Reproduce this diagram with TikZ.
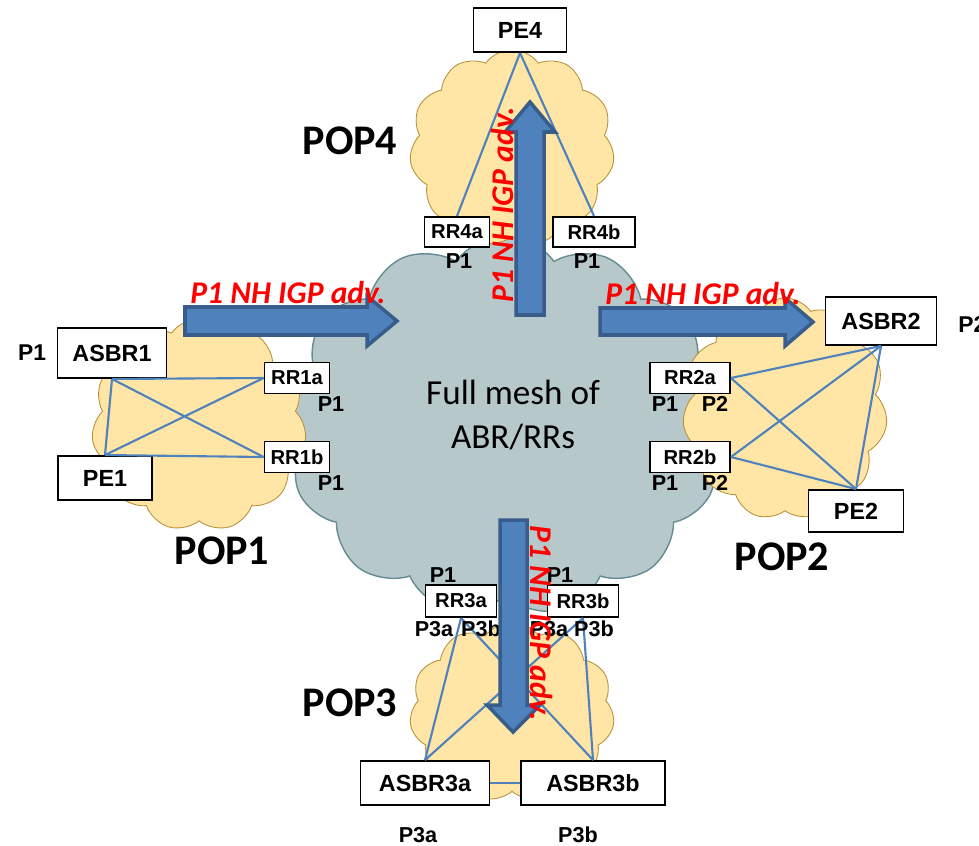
\documentclass[tikz,border=0pt]{standalone}
\usepackage{fontspec}
\setmainfont{Liberation Sans}
\newfontfamily\calibri{Carlito}
\usetikzlibrary{shapes.symbols}
\definecolor{meshfill}{RGB}{183,200,203}
\definecolor{meshedge}{RGB}{100,140,146}
\definecolor{popfill}{RGB}{255,230,166}
\definecolor{popedge}{RGB}{185,145,60}
\definecolor{linkblue}{RGB}{79,129,189}
\definecolor{arrowedge}{RGB}{56,93,138}
\definecolor{advred}{RGB}{255,0,0}

\begin{document}
\begin{tikzpicture}[x=0.02cm,y=-0.02cm,
  box/.style = {draw, line width=1.1pt, fill=white, inner sep=0pt, font=\bfseries\fontsize{13.3}{15}\selectfont},
  rr/.style = {box, minimum height=0.62cm, font=\bfseries\fontsize{11.5}{13}\selectfont},
  port/.style = {inner sep=0pt, font=\bfseries\fontsize{12.3}{14}\selectfont},
  link/.style = {linkblue, line width=1.2pt},
  pop/.style = {cloud, cloud puffs=11, cloud puff arc=110, draw=popedge, fill=popfill, line width=0.5pt, inner sep=0pt},
  popname/.style = {font=\calibri\bfseries\fontsize{24}{28}\selectfont},
  bigarrow/.style = {fill=linkblue, draw=arrowedge, line width=2pt, line join=miter},
  adv/.style = {text=advred, inner sep=0pt, font=\calibri\bfseries\itshape\fontsize{18}{20}\selectfont}]
\useasboundingbox (0,0) rectangle (979,845);

% clouds
\node[cloud, cloud puffs=13, cloud puff arc=110, draw=meshedge, fill=meshfill, line width=0.8pt,
  minimum width=8.8cm, minimum height=7.6cm] (core) at (505,426) {};
\node[pop, minimum width=4.3cm, minimum height=4.25cm] (cloud1) at (199,425) {};
\node[pop, minimum width=4.1cm, minimum height=4.44cm] (cloud2) at (785,409) {};
\node[pop, minimum width=4.1cm, minimum height=3.6cm] (cloud3) at (512,712) {};
\node[pop, minimum width=4.1cm, minimum height=3.94cm] (cloud4) at (512,148) {};
\node[align=center, font=\calibri\fontsize{20}{25}\selectfont] (mesh) at (513,415) {Full mesh of\\ABR/RRs};

% routers
\node[box, minimum width=1.86cm, minimum height=0.88cm] (pe4) at (520,30) {PE4};
\node[rr, minimum width=1.3cm, minimum height=0.6cm] (rr4a) at (457,232) {RR4a};
\node[rr, minimum width=1.64cm, minimum height=0.6cm] (rr4b) at (594,232) {RR4b};
\node[box, minimum width=2.18cm, minimum height=1cm] (asbr1) at (112,353) {ASBR1};
\node[box, minimum width=1.88cm, minimum height=0.88cm] (pe1) at (105,478) {PE1};
\node[rr, minimum width=1.3cm] (rr1a) at (297,378) {RR1a};
\node[rr, minimum width=1.3cm] (rr1b) at (297,457) {RR1b};
\node[box, minimum width=2.22cm, minimum height=0.96cm] (asbr2) at (881,321) {ASBR2};
\node[box, minimum width=1.9cm, minimum height=0.84cm] (pe2) at (856,511) {PE2};
\node[rr, minimum width=1.6cm] (rr2a) at (690,378) {RR2a};
\node[rr, minimum width=1.6cm] (rr2b) at (690,457) {RR2b};
\node[rr, minimum width=1.42cm, minimum height=0.64cm] (rr3a) at (461,601) {RR3a};
\node[rr, minimum width=1.42cm, minimum height=0.64cm] (rr3b) at (583,601) {RR3b};
\node[box, minimum width=2.58cm, minimum height=0.88cm] (asbr3a) at (425,783) {ASBR3a};
\node[box, minimum width=2.88cm, minimum height=0.88cm] (asbr3b) at (593,783) {ASBR3b};

% links
\draw[link] (pe4.south) -- (rr4a.north);
\draw[link] (pe4.south) -- (rr4b.north);
\draw[link] (asbr1.south) -- (rr1a.west);
\draw[link] (asbr1.south) -- (rr1b.west);
\draw[link] (pe1.north) -- (rr1a.west);
\draw[link] (pe1.north) -- (rr1b.west);
\draw[link] (asbr1.south) -- (pe1.north);
\draw[link] (rr2a.east) -- (asbr2.south);
\draw[link] (rr2a.east) -- (pe2.north);
\draw[link] (rr2b.east) -- (asbr2.south);
\draw[link] (rr2b.east) -- (pe2.north);
\draw[link] (asbr2.south) -- (pe2.north);
\draw[link] (rr3a.south) -- (asbr3a.north);
\draw[link] (rr3a.south) -- (asbr3b.north);
\draw[link] (rr3b.south) -- (asbr3a.north);
\draw[link] (rr3b.south) -- (asbr3b.north);
\draw[link] (asbr3a.east) -- (asbr3b.west);

% ports
\node[port] (p4a) at (459,261) {P1};
\node[port] (p4b) at (587,261) {P1};
\node[port, font=\bfseries\fontsize{13}{15}\selectfont] (pasbr1) at (32,353) {P1};
\node[port] (p1a) at (331,404) {P1};
\node[port] (p1b) at (331,483) {P1};
\node[port] (p2a1) at (665,404) {P1};
\node[port] (p2a2) at (715,404) {P2};
\node[port] (p2b1) at (665,483) {P1};
\node[port] (p2b2) at (715,483) {P2};
\node[port, font=\bfseries\fontsize{13}{15}\selectfont, anchor=west] (pasbr2) at (958,325) {P2};
\node[port] (p3a1) at (443,575) {P1};
\node[port] (p3b1) at (560,575) {P1};
\node[port] (p3aa) at (434,629) {P3a};
\node[port] (p3ab) at (481,629) {P3b};
\node[port] (p3ba) at (549,629) {P3a};
\node[port] (p3bb) at (594,629) {P3b};
\node[port] (pasbr3a) at (418,835) {P3a};
\node[port] (pasbr3b) at (578,835) {P3b};

% advertisements
\draw[bigarrow] (185,307) -- (367,307) -- (367,296) -- (397,321) -- (367,346) -- (367,335) -- (185,335) -- cycle;
\draw[bigarrow] (600,308) -- (785,308) -- (785,298) -- (813,322) -- (785,346) -- (785,335) -- (600,335) -- cycle;
\draw[bigarrow] (516,315) -- (516,132) -- (505,132) -- (530,102) -- (555,132) -- (544,132) -- (544,315) -- cycle;
\draw[bigarrow] (500,520) -- (500,705) -- (487,705) -- (513,732) -- (540,705) -- (527,705) -- (527,520) -- cycle;
\node[adv] (adv1) at (288,293) {P1 NH IGP adv.};
\node[adv] (adv2) at (703,294) {P1 NH IGP adv.};
\node[adv, rotate=90] (adv4) at (503,205) {P1 NH IGP adv.};
\node[adv, rotate=-90] (adv3) at (541,623) {P1 NH IGP adv.};

% pops
\node[popname] (pop1) at (222,551) {POP1};
\node[popname] (pop2) at (782,557) {POP2};
\node[popname] (pop3) at (350,703) {POP3};
\node[popname] (pop4) at (350,141) {POP4};
\end{tikzpicture}
\end{document}
